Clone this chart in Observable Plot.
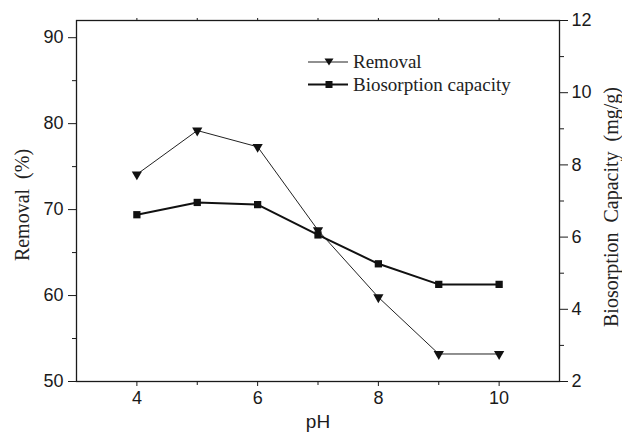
<!DOCTYPE html>
<html>
<head>
<meta charset="utf-8">
<script src="https://cdn.jsdelivr.net/npm/d3@7"></script>
<script src="https://cdn.jsdelivr.net/npm/@observablehq/plot@0.6"></script>
<style>
  html, body { margin: 0; padding: 0; background: #fff; }
  #wrap { position: relative; width: 622px; height: 434px; }
  #legend { position: absolute; left: 300px; top: 40px; }
  #wrap svg g[aria-label$="tick label"] { font-size: 18px !important; }
  #wrap svg g[aria-label$="tick label"] text { font-size: 18px !important; }
</style>
</head>
<body>
<div id="wrap"></div>
<script>
// ---- data ----
const pH = [4, 5, 6, 7, 8, 9, 10];
const removal = [74.1, 79.2, 77.3, 67.6, 59.8, 53.2, 53.2];          // Removal (%)
const capacity = [6.62, 6.96, 6.90, 6.06, 5.26, 4.69, 4.69];        // Biosorption capacity (mg/g)
const xTicks = [4, 6, 8, 10];
const xMinor = [5, 7, 9];
const xTop = [4, 5, 6, 7, 8, 9, 10];
const leftTicks = [50, 60, 70, 80, 90];
const leftMinor = [55, 65, 75, 85];
const rightTicks = [2, 4, 6, 8, 10, 12];
const rightMinor = [3, 5, 7, 9, 11];
const seriesNames = ["Removal", "Biosorption capacity"];

// map right axis (2..12) onto left scale (50..92)
const toLeft = c => 50 + (c - 2) * 4.2;
const fromLeft = v => (v - 50) / 4.2 + 2;

const table = pH.map((p, i) => ({ pH: p, removal: removal[i], cap: toLeft(capacity[i]) }));

const ink = "#1a1a1a";
const sans = "'Liberation Sans', Arial, sans-serif";
const serif = "'Liberation Serif', 'Times New Roman', serif";
const blank = () => "";

const chart = Plot.plot({
  width: 622,
  height: 434,
  marginTop: 20,
  marginBottom: 53,
  marginLeft: 76,
  marginRight: 63,
  style: { fontFamily: sans, fontSize: "18px", color: ink, background: "white" },
  x: { domain: [3, 11] },
  y: { domain: [50, 92] },
  marks: [
    Plot.frame({ stroke: ink, strokeWidth: 1.3 }),
    Plot.axisX({ ticks: xTicks, tickSize: 5, tickPadding: 5, label: null, fontSize: 18 }),
    Plot.axisX({ ticks: xMinor, tickSize: 4, tickFormat: blank, label: null }),
    Plot.axisX({ anchor: "top", ticks: xTop, tickSize: 3, tickFormat: blank, label: null }),
    Plot.axisY({ ticks: leftTicks, tickSize: 8, tickPadding: 5, label: null, fontSize: 18 }),
    Plot.axisY({ ticks: leftMinor, tickSize: 4, tickFormat: blank, label: null }),
    Plot.axisY({ anchor: "right", ticks: rightTicks.map(toLeft), tickFormat: d => String(Math.round(fromLeft(d))),
                 tickSize: 8, tickPadding: 4, label: null, fontSize: 18 }),
    Plot.axisY({ anchor: "right", ticks: rightMinor.map(toLeft), tickSize: 4, tickFormat: blank, label: null }),
    Plot.text(["Removal\u00a0\u00a0(%)"], { frameAnchor: "left", dx: -54, dy: 4, rotate: -90, textAnchor: "middle",
                 fontFamily: serif, fontSize: 20, fill: "#222" }),
    Plot.text(["Biosorption\u00a0\u00a0Capacity\u00a0\u00a0(mg/g)"], { frameAnchor: "right", dx: 52, dy: 6, rotate: -90, textAnchor: "middle",
                 fontFamily: serif, fontSize: 20, fill: "#222" }),
    Plot.text(["pH"], { frameAnchor: "bottom", dy: 46, textAnchor: "middle", fontFamily: sans, fontSize: 19, fill: ink }),
    Plot.line(table, { x: "pH", y: "removal", stroke: "#222", strokeWidth: 1 }),
    Plot.line(table, { x: "pH", y: "cap", stroke: "#111", strokeWidth: 2 }),
    Plot.dot(table, { x: "pH", y: "removal", symbol: "triangle", r: 3.8, fill: "#111", stroke: "none", rotate: 180 }),
    Plot.dot(table, { x: "pH", y: "cap", symbol: "square", r: 4.1, fill: "#111", stroke: "none" })
  ]
});

const wrap = document.getElementById("wrap");
wrap.appendChild(chart);

// legend
const ns = "http://www.w3.org/2000/svg";
const leg = document.createElementNS(ns, "svg");
leg.setAttribute("id", "legend");
leg.setAttribute("width", "240");
leg.setAttribute("height", "60");
leg.innerHTML = `
  <line x1="8" y1="22" x2="48" y2="22" stroke="#222" stroke-width="1.2"/>
  <polygon points="24.5,18.5 33.5,18.5 29,25.5" fill="#111"/>
  <text x="53" y="28" font-family="${serif.replace(/'/g, "&quot;")}" font-size="19" fill="#222">${seriesNames[0]}</text>
  <line x1="8" y1="44.5" x2="48" y2="44.5" stroke="#111" stroke-width="2"/>
  <rect x="25.5" y="41" width="7" height="7" fill="#111"/>
  <text x="53" y="51" font-family="${serif.replace(/'/g, "&quot;")}" font-size="19" fill="#222">${seriesNames[1]}</text>
`;
wrap.appendChild(leg);
</script>
</body>
</html>
